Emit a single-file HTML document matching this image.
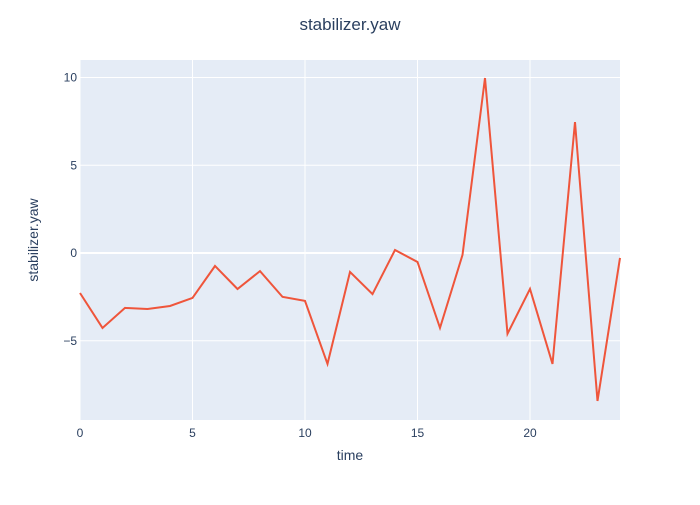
<!DOCTYPE html>
<html><head><meta charset="utf-8">
<style>
body{margin:0;background:#fff;font-family:"Liberation Sans",sans-serif;}
svg text{font-family:"Liberation Sans",sans-serif;fill:#2a3f5f;}
</style></head>
<body>
<svg id="chart" width="700" height="500" xmlns="http://www.w3.org/2000/svg">
<rect width="700" height="500" fill="#fff"/>
<rect x="80" y="60" width="540" height="360" fill="#e5ecf6"/>
<g id="grid"></g>
<g id="ticks"></g>
<path id="line" fill="none" stroke="#ef553b" stroke-width="2"/>
<text x="350" y="30" text-anchor="middle" font-size="17">stabilizer.yaw</text>
<text x="350" y="460" text-anchor="middle" font-size="14">time</text>
<text transform="translate(38,240) rotate(-90)" text-anchor="middle" font-size="14">stabilizer.yaw</text>
</svg>
<script>
const times=[0,1,2,3,4,5,6,7,8,9,10,11,12,13,14,15,16,17,18,19,20,21,22,23,24];
const yawValues=[-2.28,-4.27,-3.13,-3.19,-3.02,-2.56,-0.74,-2.05,-1.03,-2.5,-2.73,-6.32,-1.08,-2.34,0.17,-0.51,-4.27,-0.11,9.97,-4.6,-2.05,-6.32,7.46,-8.43,-0.28];
const xTicks=[0,5,10,15,20];
const yTicks=[10,5,0,-5];
const xs=v=>80+v*22.5;
const ys=v=>253-v*17.55;
const NS="http://www.w3.org/2000/svg";
const grid=document.getElementById('grid'),ticks=document.getElementById('ticks');
function mk(tag,attrs,parent){const e=document.createElementNS(NS,tag);for(const k in attrs)e.setAttribute(k,attrs[k]);parent.appendChild(e);return e;}
xTicks.forEach(t=>{
  const l=mk('line',{x1:xs(t),x2:xs(t),y1:60,y2:420,stroke:'#fff','stroke-width':1},grid);
  
  
  const tx=mk('text',{x:xs(t),y:437,'text-anchor':'middle','font-size':12},ticks);
  tx.textContent=t;
  
  
});
yTicks.forEach(t=>{
  const l=mk('line',{x1:80,x2:620,y1:ys(t),y2:ys(t),stroke:'#fff','stroke-width':t===0?2:1},grid);
  
  
  const tx=mk('text',{x:77,y:ys(t)+4,'text-anchor':'end','font-size':12},ticks);
  tx.textContent=t<0?'\u2212'+(-t):t;
  
  
});
document.getElementById('line').setAttribute('d',times.map((t,i)=>(i?'L':'M')+xs(t)+','+ys(yawValues[i])).join(''));
</script>
</body></html>
